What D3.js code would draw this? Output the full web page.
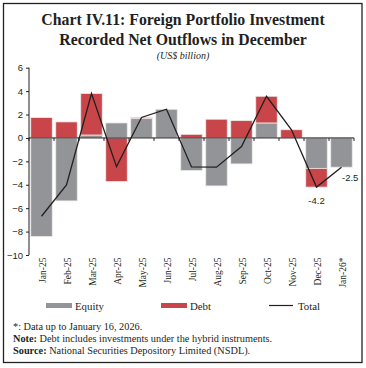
<!DOCTYPE html>
<html><head><meta charset="utf-8">
<script src="https://cdn.jsdelivr.net/npm/d3@7"></script>
<style>
body{margin:0;background:#fff;}
svg{display:block;}
</style></head>
<body>
<svg id="c" width="366" height="368"></svg>
<script>
const categories = ["Jan-25","Feb-25","Mar-25","Apr-25","May-25","Jun-25","Jul-25","Aug-25","Sep-25","Oct-25","Nov-25","Dec-25","Jan-26*"];
const equity = [-8.43,-5.38,0.25,1.28,1.65,2.45,-2.79,-4.1,-2.22,1.28,0,-2.6,-2.5];
const debt   = [1.74,1.37,3.55,-3.73,0.1,0,0.31,1.6,1.48,2.28,0.7,-1.6,0];
const total  = [-6.69,-4.01,3.8,-2.45,1.75,2.45,-2.48,-2.5,-0.74,3.56,0.7,-4.2,-2.5];
const yTicks = [-10,-8,-6,-4,-2,0,2,4,6];
const titleLines = ["Chart IV.11: Foreign Portfolio Investment","Recorded Net Outflows in December"];
const subtitle = "(US$ billion)";
const valueLabels = [{i:11,text:"-4.2"},{i:12,text:"-2.5"}];

const svg = d3.select("#c");
const serif = "'Liberation Serif', 'DejaVu Serif', serif";
const sans = "'Liberation Sans', Arial, sans-serif";
const grey = "#939497", red = "#c8464a";

// frame
svg.append("rect").attr("x",3.5).attr("y",3.5).attr("width",358.5).attr("height",359)
  .attr("fill","none").attr("stroke","#222").attr("stroke-width",1.3);

// title
titleLines.forEach((t,i)=>{
  svg.append("text").attr("x",183).attr("y",25+i*20).attr("text-anchor","middle")
    .attr("font-family",serif).attr("font-weight","bold").attr("font-size",15.8)
    .attr("fill","#231f20").text(t);
});
svg.append("text").attr("x",183).attr("y",58.5).attr("text-anchor","middle")
  .attr("font-family",serif).attr("font-style","italic").attr("font-size",10)
  .attr("fill","#231f20").text(subtitle);

const x = d3.scaleBand().domain(categories).range([29,354]).paddingInner(0.14).paddingOuter(0.07);
const y = d3.scaleLinear().domain([-10,6]).range([255,67.7]);

const rows = categories.map((c,i)=>({cat:c, Equity:equity[i], Debt:debt[i]}));
const stack = d3.stack().keys(["Equity","Debt"]).offset(d3.stackOffsetDiverging);
const series = stack(rows);
const colors = {Equity:grey, Debt:red};

svg.append("g").selectAll("g").data(series).join("g")
  .attr("fill", d=>colors[d.key])
  .selectAll("rect").data(d=>d).join("rect")
  .attr("x", d=>x(d.data.cat))
  .attr("width", x.bandwidth())
  .attr("y", d=>y(Math.max(d[0],d[1])))
  .attr("height", d=>Math.abs(y(d[0])-y(d[1])))
  .attr("stroke","#ececec").attr("stroke-width",0.8);

// y axis
const yAxis = svg.append("g").attr("transform","translate(29,0)")
  .call(d3.axisLeft(y).tickValues(yTicks).tickSize(3).tickPadding(3).tickFormat(d3.format("d")));
yAxis.selectAll("path,line").attr("stroke","#231f20").attr("stroke-width",1);
yAxis.select(".domain").attr("d","M0,"+y(6)+"V"+y(-10));
yAxis.selectAll("text").attr("font-family",sans).attr("font-size",9.5).attr("fill","#231f20");

// x axis at zero
const x0 = y(0);
const xg = svg.append("g");
xg.append("line").attr("x1",29).attr("x2",354).attr("y1",x0).attr("y2",x0).attr("stroke","#231f20").attr("stroke-width",1);
const bounds = categories.map((c,i)=>29 + i*x.step()).concat([354]);
xg.selectAll("line.t").data(bounds).join("line").attr("class","t")
  .attr("x1",d=>d).attr("x2",d=>d).attr("y1",x0).attr("y2",x0+3).attr("stroke","#231f20");

// x labels
svg.append("g").selectAll("text").data(categories).join("text")
  .attr("transform", d=>`translate(${x(d)+x.bandwidth()/2+4.5},257.5) rotate(-90)`)
  .attr("text-anchor","end")
  .attr("font-family",serif).attr("font-size",9.5).attr("fill","#231f20")
  .text(d=>d);

// total line
const line = d3.line().x((d,i)=>x(categories[i])+x.bandwidth()/2).y(d=>y(d));
svg.append("path").datum(total).attr("d",line).attr("fill","none")
  .attr("stroke","#231f20").attr("stroke-width",1.3);

// value labels
valueLabels.forEach(v=>{
  const cx = x(categories[v.i])+x.bandwidth()/2;
  const cy = y(total[v.i]);
  const t = svg.append("text").attr("font-family",sans).attr("font-size",9.5).attr("fill","#231f20").text(v.text);
  if(v.i===11){ t.attr("x",cx).attr("y",cy+17).attr("text-anchor","middle"); }
  else { t.attr("x",cx+0.5).attr("y",cy+14).attr("text-anchor","start"); }
});

// legend
const lg = svg.append("g");
lg.append("rect").attr("x",46).attr("y",303).attr("width",26).attr("height",5).attr("fill",grey);
lg.append("text").attr("x",75).attr("y",309.5).attr("font-family",serif).attr("font-size",10.8).attr("fill","#231f20").text("Equity");
lg.append("rect").attr("x",161).attr("y",303).attr("width",26).attr("height",5).attr("fill",red);
lg.append("text").attr("x",190).attr("y",309.5).attr("font-family",serif).attr("font-size",10.8).attr("fill","#231f20").text("Debt");
lg.append("line").attr("x1",269).attr("x2",293).attr("y1",305.5).attr("y2",305.5).attr("stroke","#231f20").attr("stroke-width",1.2);
lg.append("text").attr("x",298).attr("y",309.5).attr("font-family",serif).attr("font-size",10.8).attr("fill","#231f20").text("Total");

// footnotes
const fn = svg.append("g").attr("font-family",serif).attr("font-size",10.3).attr("fill","#231f20");
fn.append("text").attr("x",13).attr("y",330).text("*: Data up to January 16, 2026.");
const n = fn.append("text").attr("x",13).attr("y",342);
n.append("tspan").attr("font-weight","bold").text("Note:");
n.append("tspan").text(" Debt includes investments under the hybrid instruments.");
const s = fn.append("text").attr("x",13).attr("y",354);
s.append("tspan").attr("font-weight","bold").text("Source:");
s.append("tspan").text(" National Securities Depository Limited (NSDL).");
</script>
</body></html>
